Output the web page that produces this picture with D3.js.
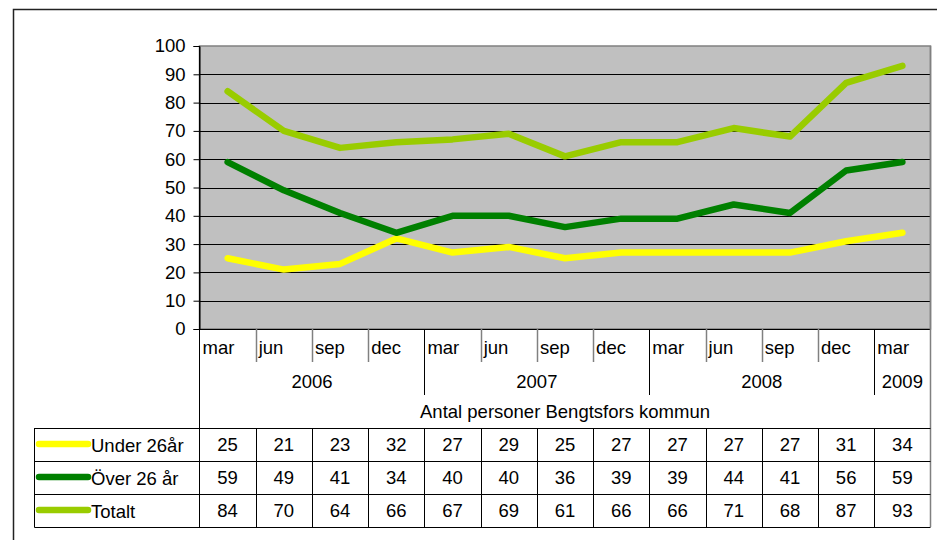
<!DOCTYPE html>
<html><head><meta charset="utf-8">
<script src="https://cdn.jsdelivr.net/npm/d3@7"></script>
<style>
html,body{margin:0;padding:0;background:#fff;}
svg{display:block;font-family:"Liberation Sans",Arial,sans-serif;}
</style></head>
<body><svg id="c" width="937" height="540"></svg>
<script>
const months = ["mar","jun","sep","dec","mar","jun","sep","dec","mar","jun","sep","dec","mar"];
const years = ["2006","2007","2008","2009"];
const yearSpans = [4,4,4,1];
const seriesNames = ["Under 26år","Över 26 år","Totalt"];
const under26 = [25,21,23,32,27,29,25,27,27,27,27,31,34];
const over26 = [59,49,41,34,40,40,36,39,39,44,41,56,59];
const totalt = [84,70,64,66,67,69,61,66,66,71,68,87,93];
const colors = ["#FFFF00","#008000","#99CC00"];
const yTicks = [0,10,20,30,40,50,60,70,80,90,100];
const axisTitle = "Antal personer Bengtsfors kommun";

const FS = 18.5;
const FF = "'Liberation Sans', Arial, sans-serif";
const series = [under26, over26, totalt];
const svg = d3.select("#c");
const L = 199.5, R = 930.5, T = 46, B = 329;
const tableL = 34.5;
const rowTops = [428, 461, 494, 527];

const x = d3.scaleBand().domain(d3.range(months.length)).range([L, R]).padding(0);
const y = d3.scaleLinear().domain([0,100]).range([B, T]);

// outer border
svg.append("rect").attr("x",13.5).attr("y",9.5).attr("width",960).attr("height",600)
  .attr("fill","none").attr("stroke","#222").attr("stroke-width",1.5);

// plot area
svg.append("rect").attr("x",L).attr("y",T).attr("width",R-L).attr("height",B-T)
  .attr("fill","#C0C0C0").attr("stroke","#808080").attr("stroke-width",1.5);

// gridlines
svg.append("g").selectAll("line").data(yTicks.filter(d=>d>0 && d<100)).join("line")
  .attr("x1",L).attr("x2",R).attr("y1",d=>Math.round(y(d))+0.5).attr("y2",d=>Math.round(y(d))+0.5)
  .attr("stroke","#000").attr("stroke-width",1);

// y axis
const yAxis = d3.axisLeft(y).tickValues(yTicks).tickSize(6).tickPadding(8);
const gy = svg.append("g").attr("transform",`translate(${L},0)`).call(yAxis);
gy.select(".domain").attr("stroke","#000");
gy.selectAll(".tick line").attr("stroke","#000");
gy.selectAll(".tick text").attr("font-size",FS).attr("fill","#000").attr("font-family",FF);

// bottom axis line
svg.append("line").attr("x1",L).attr("x2",R).attr("y1",B+0.5).attr("y2",B+0.5).attr("stroke","#000");

// lines
const line = d3.line().x((d,i)=>x(i)+x.bandwidth()/2).y(d=>y(d));
series.forEach((s,k)=>{
  svg.append("path").datum(s).attr("d",line).attr("fill","none")
    .attr("stroke",colors[k]).attr("stroke-width",6.5)
    .attr("stroke-linejoin","round").attr("stroke-linecap","round");
});

// category header: month separators
const yearStartIdx = [];
let acc = 0; yearSpans.forEach(s=>{yearStartIdx.push(acc); acc+=s;});
for (let i=1;i<months.length;i++){
  const xx = Math.round(x(i))+0.5;
  const isYear = yearStartIdx.includes(i);
  svg.append("line").attr("x1",xx).attr("x2",xx).attr("y1",B).attr("y2",isYear?395:362)
    .attr("stroke",isYear?"#000":"#808080").attr("stroke-width",isYear?1:1.5);
}
// month labels
svg.append("g").selectAll("text").data(months).join("text")
  .attr("x",(d,i)=>x(i)+3).attr("y",354).attr("font-size",FS).attr("fill","#000").text(d=>d);
// year labels
svg.append("g").selectAll("text").data(years).join("text")
  .attr("x",(d,i)=>{const a=x(yearStartIdx[i]); const b=x(yearStartIdx[i]+yearSpans[i]-1)+x.bandwidth(); return (a+b)/2;})
  .attr("y",388).attr("text-anchor","middle").attr("font-size",FS).attr("fill","#000").text(d=>d);
// axis title
svg.append("text").attr("x",(L+R)/2).attr("y",418).attr("text-anchor","middle")
  .attr("font-size",FS).attr("fill","#000").text(axisTitle);

// left and right vertical lines of the category area
svg.append("line").attr("x1",L).attr("x2",L).attr("y1",T).attr("y2",rowTops[3]).attr("stroke","#000");
svg.append("line").attr("x1",R).attr("x2",R).attr("y1",T).attr("y2",rowTops[3]).attr("stroke","#808080").attr("stroke-width",1.5);

// table
rowTops.forEach(ry=>{
  svg.append("line").attr("x1",tableL).attr("x2",R).attr("y1",ry+0.5).attr("y2",ry+0.5).attr("stroke","#000");
});
svg.append("line").attr("x1",tableL).attr("x2",tableL).attr("y1",rowTops[0]).attr("y2",rowTops[3]+0.5).attr("stroke","#000");
for (let i=1;i<months.length;i++){
  const xx = Math.round(x(i))+0.5;
  svg.append("line").attr("x1",xx).attr("x2",xx).attr("y1",rowTops[0]).attr("y2",rowTops[3]).attr("stroke","#000");
}
series.forEach((s,k)=>{
  const top = rowTops[k], mid = (rowTops[k]+rowTops[k+1])/2;
  svg.append("line").attr("x1",39).attr("x2",88).attr("y1",mid-0.5).attr("y2",mid-0.5)
    .attr("stroke",colors[k]).attr("stroke-width",6.5).attr("stroke-linecap","round");
  svg.append("text").attr("x",91).attr("y",top+24).attr("font-size",FS).attr("fill","#000").text(seriesNames[k]);
  svg.append("g").selectAll("text").data(s).join("text")
    .attr("x",(d,i)=>x(i)+x.bandwidth()/2).attr("y",top+23).attr("text-anchor","middle")
    .attr("font-size",FS).attr("fill","#000").text(d=>d);
});
</script></body></html>
